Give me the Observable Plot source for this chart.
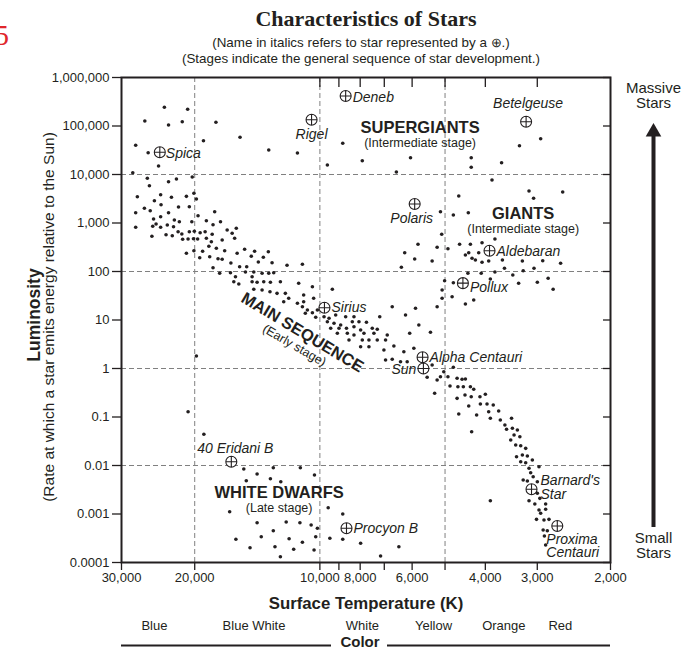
<!DOCTYPE html>
<html>
<head>
<meta charset="utf-8">
<script src="https://cdn.jsdelivr.net/npm/d3@7"></script>
<script src="https://cdn.jsdelivr.net/npm/@observablehq/plot@0.6"></script>
<style>
  body { margin: 0; background: #fff; }
  #chart { width: 688px; height: 649px; overflow: hidden; }
</style>
</head>
<body>
<div id="chart"></div>
<script>
// ---------------- DATA (stars given as [log10 T(K), log10 L(Sun)]) ----------------
const tempDomain = [30000, 2000];
const lumDomain = [0.0001, 1000000];

const lumTicks = [1000000, 100000, 10000, 1000, 100, 10, 1, 0.1, 0.01, 0.001, 0.0001];
const lumTickLabels = ["1,000,000", "100,000", "10,000", "1,000", "100", "10", "1", "0.1", "0.01", "0.001", "0.0001"];
const tempTicks = [30000, 20000, 10000, 9000, 8000, 7000, 6000, 5000, 4000, 3000, 2000];
const tempTickLabels = ["30,000", "20,000", "10,000", "", "8,000", "", "6,000", "", "4,000", "3,000", "2,000"];
const topTempTicks = [10000, 9000, 8000, 7000, 6000, 5000, 4000, 3000];
const gridTemps = [20000, 10000, 5000];
const gridLums = [10000, 100, 1, 0.01];

const colorNames = ["Blue", "Blue White", "White", "Yellow", "Orange", "Red"];
const colorTemps = [25000, 14400, 7900, 5330, 3610, 2640];

const supergiants = [
  [4.421,5.103],[4.374,5.386],[4.364,5.021],[4.331,5.089],[4.318,5.344],[4.250,5.076],[4.443,4.602],
  [4.413,4.450],[4.280,4.697],[4.192,4.767],[4.123,4.505],[4.054,4.443],[3.982,4.196],[3.945,4.643],
  [4.388,4.175],[3.898,4.285],[3.782,4.346],[3.816,4.052],[3.636,4.346],[3.636,4.148],[3.563,4.243],
  [3.520,4.594],[3.469,4.738]
];

const giants = [
  [3.586,3.887],[3.666,3.557],[3.497,3.660],[3.486,3.509],[3.416,3.639],[3.710,3.233],[3.679,3.165],
  [3.643,3.212],[3.707,2.767],[3.764,2.561],[3.796,2.388],[3.772,2.258],[3.804,2.087],[3.730,2.216],
  [3.718,2.499],[3.692,2.470],[3.664,2.561],[3.638,2.561],[3.610,2.594],[3.579,2.670],[3.650,2.340],
  [3.642,2.388],[3.634,2.272],[3.618,2.388],[3.626,2.237],[3.610,2.190],[3.594,2.216],[3.561,2.237],
  [3.513,2.216],[3.464,2.223],[3.421,2.169],[3.556,2.066],[3.511,2.016],[3.485,2.066],[3.644,1.963],
  [3.612,1.963],[3.579,1.990],[3.536,1.928],[3.590,1.845],[3.522,1.757],[3.477,1.777],[3.451,1.860],
  [3.439,1.633],[3.700,1.810],[3.679,1.769],[3.706,1.619],[3.682,1.480],[3.706,1.447],[3.630,1.412],
  [3.650,1.330],[3.826,1.274],[3.770,1.241],[3.718,1.274],[3.794,1.103],[3.762,0.897],[3.734,0.746],
  [3.784,0.726]
];

const mainSequenceUpper = [
  [4.450,4.037],[4.415,3.922],[4.410,3.769],[4.364,3.852],[4.345,3.907],[4.307,3.948],[4.439,3.542],
  [4.398,3.460],[4.383,3.583],[4.357,3.530],[4.321,3.550],[4.303,3.612],[4.297,3.495],[4.422,3.303],
  [4.408,3.254],[4.382,3.377],[4.340,3.330],[4.314,3.336],[4.364,3.212],[4.443,3.212],[4.400,3.082],
  [4.383,3.130],[4.443,2.911],[4.402,2.932],[4.394,2.979],[4.383,2.911],[4.367,2.959],[4.350,3.062],
  [4.338,3.027],[4.352,2.924],[4.293,3.151],[4.253,3.233],[4.308,3.027],[4.273,3.047],[4.257,2.965],
  [4.239,3.027],[4.404,2.726],[4.370,2.759],[4.355,2.738],[4.341,2.821],[4.332,2.773],[4.314,2.821],
  [4.302,2.829],[4.288,2.800],[4.276,2.821],[4.259,2.767],[4.223,2.856],[4.201,2.891],[4.211,2.788],
  [4.317,2.670],[4.330,2.664],[4.304,2.676],[4.294,2.670],[4.273,2.685],[4.261,2.614],[4.235,2.649],
  [4.205,2.685],[4.321,2.375],[4.303,2.429],[4.289,2.284],[4.282,2.416],[4.267,2.520],[4.249,2.478],
  [4.229,2.429],[4.199,2.375],[4.181,2.458],[4.157,2.416],[4.124,2.408],[4.136,2.293],[4.165,2.313],
  [4.265,2.305],[4.245,2.264],[4.235,2.252],[4.214,2.175],[4.148,2.196],[4.115,2.181],[4.079,2.128],
  [4.042,2.148],[4.257,2.078],[4.241,1.963],[4.193,2.099],[4.176,2.099],[4.215,1.975],[4.179,1.990],
  [4.159,1.990],[4.139,1.963],[4.123,1.963],[4.111,1.975],[4.203,1.893],[4.163,1.893],[4.207,1.790],
  [4.195,1.742],[4.163,1.790],[4.151,1.777],[4.135,1.790],[4.119,1.777],[4.095,1.790],[4.051,1.757],
  [4.018,1.687],[3.970,1.633],[4.159,1.633],[4.139,1.619],[4.120,1.583],[4.103,1.550],[4.083,1.550],
  [4.039,1.515],[4.087,1.377],[4.075,1.447],[4.054,1.344],[4.039,1.377],[4.015,1.447],[4.042,1.274],
  [4.030,1.206],[4.006,1.206],[4.035,1.138],[4.018,1.150],[4.010,1.056],[3.990,1.068],[3.978,1.035],
  [3.962,1.103],[3.938,1.068],[3.918,1.068],[3.856,1.068],[3.982,0.965],[3.966,0.932],[3.950,0.897],
  [3.922,0.965],[3.906,0.965],[3.888,0.953],[3.974,0.829],[3.954,0.829],[3.936,0.829],[3.918,0.862],
  [3.902,0.794],[3.874,0.829],[3.862,0.808],[3.958,0.726],[3.934,0.726],[3.918,0.691],[3.894,0.726],
  [3.870,0.726],[3.838,0.691],[3.930,0.588],[3.898,0.588],[3.882,0.588],[3.862,0.588],[3.842,0.588],
  [3.902,0.449],[3.882,0.449],[3.846,0.381],[3.822,0.464],[3.798,0.346],[3.774,0.416],[3.842,0.175],
  [3.826,0.190],[3.806,0.140],[3.790,0.140]
];

const mainSequenceLower = [
  [3.742,-0.181],[3.730,0.072],[3.718,-0.237],[3.710,-0.169],[3.702,-0.066],[3.692,-0.169],[3.679,0.025],
  [3.724,-0.511],[3.687,-0.361],[3.670,-0.202],[3.668,-0.375],[3.658,-0.223],[3.650,-0.217],[3.655,-0.375],
  [3.638,-0.375],[3.630,-0.429],[3.670,-0.615],[3.651,-0.547],[3.642,-0.773],[3.636,-0.582],[3.615,-0.582],
  [3.602,-0.532],[3.614,-0.732],[3.598,-0.732],[3.583,-0.753],[3.666,-0.938],[3.623,-0.959],[3.594,-0.891],
  [3.570,-0.876],[3.590,-1.027],[3.635,-1.303],[3.566,-1.062],[3.555,-1.165],[3.539,-1.027],[3.551,-1.254],
  [3.537,-1.233],[3.525,-1.268],[3.533,-1.371],[3.519,-1.406],[3.541,-1.474],[3.529,-1.578],[3.517,-1.592],
  [3.505,-1.646],[3.527,-1.819],[3.513,-1.784],[3.501,-1.804],[3.517,-1.922],[3.505,-1.942],[3.489,-1.887],
  [3.473,-2.025],[3.497,-2.058],[3.493,-2.149],[3.487,-2.231],[3.511,-2.299],[3.501,-2.320],[3.477,-2.334],
  [3.477,-2.573],[3.471,-2.677],[3.497,-2.726],[3.457,-2.794],[3.483,-2.794],[3.473,-2.918],[3.469,-2.986],
  [3.457,-2.903],[3.479,-3.110],[3.461,-3.124],[3.449,-3.110],[3.463,-3.330],[3.453,-3.345],[3.460,-3.454],
  [3.457,-3.639]
];

const outliers = [[3.590,-2.726],[4.297,0.258],[4.317,-0.891],[4.279,-1.357]];

const whiteDwarfs = [
  [4.183,-2.072],[4.151,-2.176],[4.112,-2.046],[4.047,-2.046],[4.013,-2.196],[4.177,-2.314],[4.119,-2.272],
  [4.094,-2.334],[4.217,-2.953],[3.980,-2.870],[3.945,-3.000],[4.151,-3.180],[4.081,-3.165],[4.048,-3.180],
  [4.021,-3.227],[4.006,-3.295],[4.112,-3.345],[4.202,-3.522],[4.141,-3.468],[4.074,-3.509],[4.042,-3.584],
  [4.010,-3.468],[3.976,-3.501],[3.945,-3.522],[4.168,-3.695],[4.108,-3.674],[4.063,-3.728],[4.014,-3.743],
  [4.095,-3.881],[3.902,-3.604],[3.854,-3.866],[3.810,-3.674]
];

const starNames = ["Deneb", "Rigel", "Spica", "Betelgeuse", "Polaris", "Aldebaran", "Pollux", "Sirius",
  "Alpha Centauri", "Sun", "Barnard's Star", "Proxima Centauri", "40 Eridani B", "Procyon B"];
const starLabels = ["Deneb", "Rigel", "Spica", "Betelgeuse", "Polaris", "Aldebaran", "Pollux", "Sirius",
  "Alpha Centauri", "Sun", "Barnard's\nStar", "Proxima\nCentauri", "40 Eridani B", "Procyon B"];
const starLogT = [3.938, 4.020, 4.385, 3.504, 3.772, 3.592, 3.656, 3.989, 3.753, 3.751, 3.491, 3.429, 4.213, 3.936];
const starLogL = [5.619, 5.130, 4.458, 5.089, 3.392, 2.429, 1.760, 1.254, 0.231, 0.000, -2.491, -3.247, -1.922, -3.295];

const regionNames = ["SUPERGIANTS", "GIANTS", "WHITE DWARFS", "MAIN SEQUENCE"];
const regionStages = ["(Intermediate stage)", "(Intermediate stage)", "(Late stage)", "(Early stage)"];
const regionLogT = [3.759, 3.511, 4.098, 4.042];
const regionLogL = [4.959, 3.186, -2.567, 0.742];

// ---------------- BUILD ----------------
const ink = "#231f20";
const font = "'Liberation Sans', Arial, Helvetica, sans-serif";

const toStars = (pairs) => pairs.map(([lt, ll]) => ({temp: 10 ** lt, lum: 10 ** ll}));
const stars = [supergiants, giants, mainSequenceUpper, mainSequenceLower, outliers, whiteDwarfs].flatMap(toStars);
const named = starNames.map((name, i) => ({name, label: starLabels[i], temp: 10 ** starLogT[i], lum: 10 ** starLogL[i]}));
const regions = regionNames.map((name, i) => ({name, stage: regionStages[i], temp: 10 ** regionLogT[i], lum: 10 ** regionLogL[i]}));
const colors = colorNames.map((name, i) => ({name, temp: colorTemps[i]}));

const lumLabel = new Map(lumTicks.map((v, i) => [v, lumTickLabels[i]]));
const tempLabel = new Map(tempTicks.map((v, i) => [v, tempTickLabels[i]]));

const circlePlus = {
  draw(context, size) {
    const r = Math.sqrt(size / Math.PI);
    context.moveTo(r, 0);
    context.arc(0, 0, r, 0, 2 * Math.PI);
    context.moveTo(-r, 0); context.lineTo(r, 0);
    context.moveTo(0, -r); context.lineTo(0, r);
  }
};

const placement = {
  "Deneb": {dx: 7, dy: 2, textAnchor: "start"},
  "Rigel": {dx: 0, dy: 15, textAnchor: "middle"},
  "Spica": {dx: 6, dy: 1, textAnchor: "start"},
  "Betelgeuse": {dx: 2, dy: -18, textAnchor: "middle"},
  "Polaris": {dx: -3, dy: 15, textAnchor: "middle"},
  "Aldebaran": {dx: 7, dy: 1, textAnchor: "start"},
  "Pollux": {dx: 7, dy: 5, textAnchor: "start"},
  "Sirius": {dx: 7, dy: 0, textAnchor: "start"},
  "Alpha Centauri": {dx: 7, dy: 0, textAnchor: "start"},
  "Sun": {dx: -7, dy: 1, textAnchor: "end"},
  "Barnard's Star": {dx: 9, dy: -1.5, textAnchor: "start"},
  "Proxima Centauri": {dx: -11, dy: 20, textAnchor: "start"},
  "40 Eridani B": {dx: 4, dy: -13, textAnchor: "middle"},
  "Procyon B": {dx: 7, dy: 0, textAnchor: "start"}
};

const labelMarks = named.map(d => Plot.text([d], {
  x: "temp", y: "lum", text: "label",
  ...placement[d.name],
  fontStyle: "italic", fontSize: 14, lineHeight: 0.97, fill: ink
}));

const gridStyle = {stroke: "#808080", strokeWidth: 1, strokeDasharray: "5,3"};

const chart = Plot.plot({
  width: 688,
  height: 649,
  marginLeft: 121,
  marginRight: 78,
  marginTop: 77,
  marginBottom: 87,
  style: {fontFamily: font, fontSize: "13px", color: ink, background: "white"},
  x: {type: "log", domain: tempDomain},
  y: {type: "log", domain: lumDomain},
  marks: [
    Plot.ruleY(gridLums, gridStyle),
    Plot.ruleX(gridTemps, gridStyle),
    Plot.axisY({anchor: "left", ticks: lumTicks, tickFormat: d => lumLabel.get(d), tickSize: 9, tickPadding: 3, fontSize: 13, label: null, strokeWidth: 1.3}),
    Plot.axisY({anchor: "right", ticks: lumTicks, tickFormat: () => "", tickSize: -8, label: null, strokeWidth: 1.3}),
    Plot.axisX({anchor: "bottom", ticks: tempTicks, tickFormat: d => tempLabel.get(d), tickSize: 8, tickPadding: 2, fontSize: 13, label: null, strokeWidth: 1.3}),
    Plot.axisX({anchor: "top", ticks: topTempTicks, tickFormat: () => "", tickSize: -9, label: null, strokeWidth: 1.3}),
    Plot.frame({stroke: ink, strokeWidth: 2}),
    Plot.dot(stars, {x: "temp", y: "lum", r: 1.8, fill: ink}),
    Plot.dot(named, {x: "temp", y: "lum", r: 5.5, symbol: circlePlus, stroke: ink, fill: "white", strokeWidth: 1.1}),
    ...labelMarks,
    // region labels
    Plot.text(regions.filter(d => d.name !== "MAIN SEQUENCE"), {x: "temp", y: "lum", text: "name", fontWeight: "bold", fontSize: 16.5, fill: ink}),
    Plot.text(regions.filter(d => d.name !== "MAIN SEQUENCE"), {x: "temp", y: "lum", text: "stage", dy: 15, fontSize: 12.5, fill: ink}),
    Plot.text(regions.filter(d => d.name === "MAIN SEQUENCE"), {x: "temp", y: "lum", text: "name", rotate: 31, fontWeight: "bold", fontSize: 16.5, fill: ink}),
    Plot.text(regions.filter(d => d.name === "MAIN SEQUENCE"), {x: "temp", y: "lum", text: "stage", rotate: 30, dx: -8, dy: 13, fontSize: 12.5, fill: ink}),
    // titles
    Plot.text(["Characteristics of Stars"], {frameAnchor: "top", textAnchor: "middle", lineAnchor: "middle", dy: -59, fontFamily: "'Liberation Serif', 'Times New Roman', serif", fontWeight: "bold", fontSize: 22, fill: ink}),
    Plot.text(["(Name in italics refers to star represented by a \u2295.)"], {frameAnchor: "top", textAnchor: "middle", lineAnchor: "middle", dx: -5, dy: -34.5, fontSize: 13.4, fill: ink}),
    Plot.text(["(Stages indicate the general sequence of star development.)"], {frameAnchor: "top", textAnchor: "middle", lineAnchor: "middle", dx: -5, dy: -18.5, fontSize: 13.4, fill: ink}),
    Plot.text(["5"], {frameAnchor: "top-left", lineAnchor: "middle", textAnchor: "start", dx: -127, dy: -42, fontFamily: "'Liberation Serif', serif", fontSize: 29, fill: "#e0262b"}),
    // y-axis titles
    Plot.text(["Luminosity"], {frameAnchor: "left", textAnchor: "middle", lineAnchor: "middle", rotate: -90, dx: -87, dy: -5, fontWeight: "bold", fontSize: 17.5, fill: ink}),
    Plot.text(["(Rate at which a star emits energy relative to the Sun)"], {frameAnchor: "left", textAnchor: "middle", lineAnchor: "middle", rotate: -90, dx: -72, dy: -3, fontSize: 15.5, fill: ink}),
    // x-axis title and colors
    Plot.text(["Surface Temperature (K)"], {frameAnchor: "bottom", textAnchor: "middle", lineAnchor: "middle", dy: 41, fontWeight: "bold", fontSize: 16.8, fill: ink}),
    Plot.text(colors, {x: "temp", text: "name", frameAnchor: "bottom", textAnchor: "middle", lineAnchor: "middle", dy: 63, fontSize: 13, fill: ink}),
    Plot.ruleY([0], {y: null, dy: 325.5, insetRight: 279, stroke: ink, strokeWidth: 2}),
    Plot.ruleY([0], {y: null, dy: 325.5, insetLeft: 266, stroke: ink, strokeWidth: 2}),
    Plot.text(["Color"], {frameAnchor: "bottom", textAnchor: "middle", lineAnchor: "middle", dy: 80, dx: -6, fontWeight: "bold", fontSize: 15, fill: ink}),
    // mass arrow on the right
    Plot.ruleX([0], {x: null, insetTop: 59, insetBottom: 35, dx: 287.5, stroke: ink, strokeWidth: 4}),
    Plot.dot([0], {x: null, y: null, frameAnchor: "top", symbol: "triangle", r: 5.8, dx: 287.5, dy: 54.5, fill: ink}),
    Plot.text(["Massive\nStars"], {frameAnchor: "top-right", textAnchor: "middle", lineAnchor: "middle", dx: 43, dy: 18.5, fontSize: 15, lineHeight: 1.0, fill: ink}),
    Plot.text(["Small\nStars"], {frameAnchor: "bottom-right", textAnchor: "middle", lineAnchor: "middle", dx: 43, dy: -16.5, fontSize: 15, lineHeight: 1.0, fill: ink})
  ]
});

document.getElementById("chart").appendChild(chart);
</script>
</body>
</html>
